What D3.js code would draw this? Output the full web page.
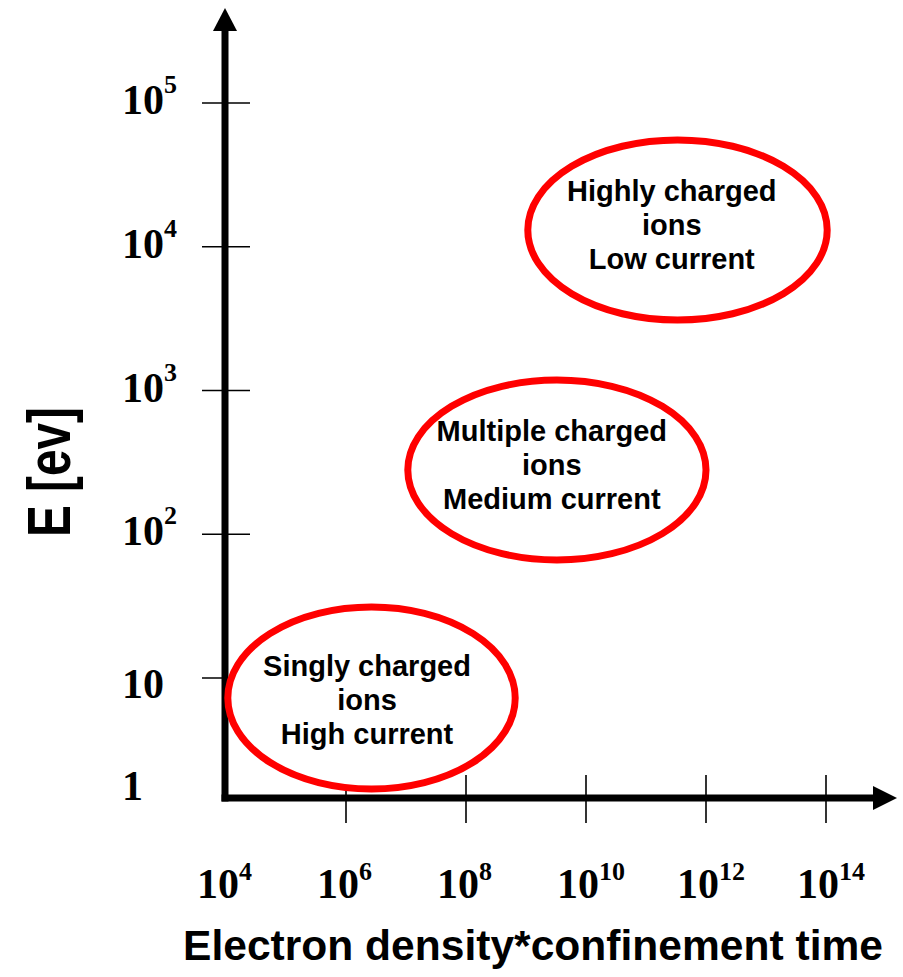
<!DOCTYPE html>
<html>
<head>
<meta charset="utf-8">
<script src="https://cdn.jsdelivr.net/npm/d3@7"></script>
<style>
  html, body { margin: 0; padding: 0; background: #fff; }
  svg { display: block; }
</style>
</head>
<body>
<div id="chart"></div>
<script>
// ---- data ----
const xTickExponents = [4, 6, 8, 10, 12, 14];
const xTickBases = ["10", "10", "10", "10", "10", "10"];
const xTickSups = ["4", "6", "8", "10", "12", "14"];

const yTickExponents = [1, 2, 3, 4, 5];
const yTickBases = ["10", "10", "10", "10", "10"];
const yTickSups = ["", "2", "3", "4", "5"];
const yOriginLabel = "1";

const xTitle = "Electron density*confinement time";
const yTitle = "E [ev]";

// regions (exponents of 10)
const regionLine1 = ["Singly charged", "Multiple charged", "Highly charged"];
const regionLine2 = ["ions", "ions", "ions"];
const regionLine3 = ["High current", "Medium current", "Low current"];
const regionXMinExp = [4.03, 7.03, 9.03];
const regionXMaxExp = [8.82, 12.0, 14.02];
const regionYMinExp = [0.228, 1.821, 3.49];
const regionYMaxExp = [1.494, 3.073, 4.743];
const regionLabelXExp = [6.35, 9.43, 11.43];
const regionLabelYExp = [0.777, 2.412, 4.082];

// ---- drawing ----
const W = 903, H = 977;
const svg = d3.select("#chart").append("svg").attr("width", W).attr("height", H);

const x = d3.scaleLog().domain([1e4, 1e14]).range([226, 826]);
const y = d3.scaleLog().domain([10, 1e5]).range([678, 103]);

const axisX0 = 225, axisY0 = 798;
const serif = "'Liberation Serif', 'Times New Roman', serif";
const sans = "'Liberation Sans', Arial, Helvetica, sans-serif";

// y ticks
svg.append("g").selectAll("line").data(yTickExponents).join("line")
  .attr("x1", 202).attr("x2", 250)
  .attr("y1", d => y(Math.pow(10, d))).attr("y2", d => y(Math.pow(10, d)))
  .attr("stroke", "#000").attr("stroke-width", 1.6);

// x ticks (skip the one on the y axis)
svg.append("g").selectAll("line").data(xTickExponents.slice(1)).join("line")
  .attr("x1", d => x(Math.pow(10, d))).attr("x2", d => x(Math.pow(10, d)))
  .attr("y1", 775).attr("y2", 823)
  .attr("stroke", "#000").attr("stroke-width", 1.6);

// axes
svg.append("line").attr("x1", axisX0).attr("x2", axisX0).attr("y1", axisY0 + 3.5).attr("y2", 28)
  .attr("stroke", "#000").attr("stroke-width", 7);
svg.append("line").attr("x1", axisX0 - 3.5).attr("x2", 876).attr("y1", axisY0).attr("y2", axisY0)
  .attr("stroke", "#000").attr("stroke-width", 7);
// arrow heads
svg.append("path").attr("d", `M${axisX0},8 L${axisX0 + 12},31 L${axisX0 - 12},31 Z`).attr("fill", "#000");
svg.append("path").attr("d", `M897,${axisY0} L873,${axisY0 - 12} L873,${axisY0 + 12} Z`).attr("fill", "#000");

// y tick labels
const yl = svg.append("g").selectAll("text").data(yTickExponents).join("text")
  .attr("x", 122)
  .attr("y", (d, i) => y(Math.pow(10, d)) + (yTickSups[i] ? 11 : 20))
  .attr("font-family", serif).attr("font-weight", "bold").attr("font-size", 42)
  .attr("fill", "#000");
yl.append("tspan").text((d, i) => yTickBases[i]);
yl.append("tspan").attr("font-size", 26).attr("dy", -21).text((d, i) => yTickSups[i]);

svg.append("text").attr("x", 122).attr("y", 800)
  .attr("font-family", serif).attr("font-weight", "bold").attr("font-size", 42)
  .text(yOriginLabel);

// x tick labels
const xl = svg.append("g").selectAll("text").data(xTickExponents).join("text")
  .attr("x", d => x(Math.pow(10, d)) - 29)
  .attr("y", 898)
  .attr("font-family", serif).attr("font-weight", "bold").attr("font-size", 42)
  .attr("fill", "#000");
xl.append("tspan").text((d, i) => xTickBases[i]);
xl.append("tspan").attr("font-size", 26).attr("dy", -18).text((d, i) => xTickSups[i]);

// axis titles
svg.append("text").attr("x", 533).attr("y", 960)
  .attr("text-anchor", "middle")
  .attr("font-family", sans).attr("font-weight", "bold").attr("font-size", 43)
  .attr("textLength", 700).attr("lengthAdjust", "spacingAndGlyphs")
  .text(xTitle);

svg.append("text").attr("transform", "translate(70,472) rotate(-90)")
  .attr("text-anchor", "middle")
  .attr("font-family", sans).attr("font-weight", "bold").attr("font-size", 62)
  .attr("textLength", 130).attr("lengthAdjust", "spacingAndGlyphs")
  .text(yTitle);

// regions
const idx = d3.range(regionLine1.length);
svg.append("g").selectAll("ellipse").data(idx).join("ellipse")
  .attr("cx", i => (x(Math.pow(10, regionXMinExp[i])) + x(Math.pow(10, regionXMaxExp[i]))) / 2)
  .attr("cy", i => (y(Math.pow(10, regionYMinExp[i])) + y(Math.pow(10, regionYMaxExp[i]))) / 2)
  .attr("rx", i => (x(Math.pow(10, regionXMaxExp[i])) - x(Math.pow(10, regionXMinExp[i]))) / 2)
  .attr("ry", i => (y(Math.pow(10, regionYMinExp[i])) - y(Math.pow(10, regionYMaxExp[i]))) / 2)
  .attr("fill", "#fff").attr("stroke", "#ff0000").attr("stroke-width", 7);

const lt = svg.append("g").selectAll("text").data(idx).join("text")
  .attr("text-anchor", "middle")
  .attr("font-family", sans).attr("font-weight", "bold").attr("font-size", 29)
  .attr("fill", "#000");
lt.each(function (i) {
  const cx = x(Math.pow(10, regionLabelXExp[i]));
  const cy = y(Math.pow(10, regionLabelYExp[i]));
  const t = d3.select(this);
  [regionLine1[i], regionLine2[i], regionLine3[i]].forEach((s, k) => {
    t.append("tspan").attr("x", cx).attr("y", cy + (k - 1) * 34).text(s);
  });
});
</script>
</body>
</html>
